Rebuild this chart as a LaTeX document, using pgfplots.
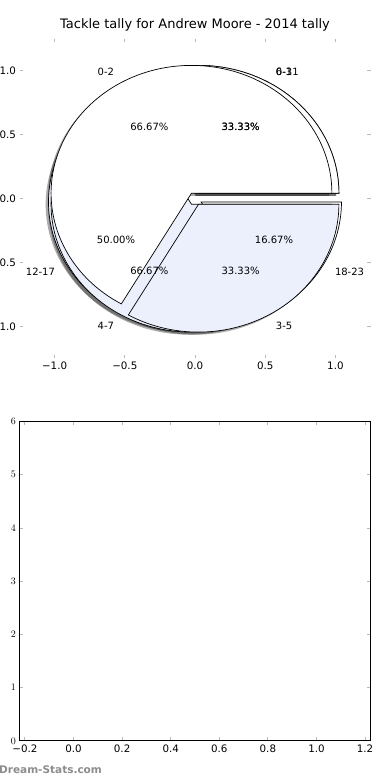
\documentclass[border=0pt]{standalone}
\usepackage{fontspec}
\setmainfont{DejaVu Sans}
\usepackage{pgfplots}
\pgfplotsset{compat=1.18}
\definecolor{pieblue}{RGB}{235,240,252}
\definecolor{tickgray}{RGB}{185,185,185}
\definecolor{wmgray}{RGB}{140,140,140}

\newcommand\rx{140.4bp}
\newcommand\ry{127.8bp}
% slices given by cumulative percentages (start, end)
\newcommand\shadowslice[2]{%
  \pgfmathsetmacro\aa{3.6*#1}\pgfmathsetmacro\bb{3.6*#2}%
  \pgfmathsetmacro\md{(\aa+\bb)/2}%
  \pgfmathsetmacro\ox{0.05*cos(\md)-0.02}%
  \pgfmathsetmacro\oy{0.05*sin(\md)-0.02}%
  \pgfmathsetmacro\sx{\ox+cos(\aa)}%
  \pgfmathsetmacro\sy{\oy+sin(\aa)}%
  \fill[black, opacity=0.33] (axis cs:\ox,\oy) -- (axis cs:\sx,\sy)
     arc[start angle=\aa, end angle=\bb, x radius=\rx, y radius=\ry] -- cycle;
}
\newcommand\wedgeslice[3]{%
  \pgfmathsetmacro\aa{3.6*#1}\pgfmathsetmacro\bb{3.6*#2}%
  \pgfmathsetmacro\md{(\aa+\bb)/2}%
  \pgfmathsetmacro\ox{0.05*cos(\md)}%
  \pgfmathsetmacro\oy{0.05*sin(\md)}%
  \pgfmathsetmacro\sx{\ox+cos(\aa)}%
  \pgfmathsetmacro\sy{\oy+sin(\aa)}%
  \filldraw[fill=#3, draw=black, line width=0.7bp] (axis cs:\ox,\oy) -- (axis cs:\sx,\sy)
     arc[start angle=\aa, end angle=\bb, x radius=\rx, y radius=\ry] -- cycle;
}
\newcommand\slicetext[4]{%
  \pgfmathsetmacro\md{3.6*(#1+#2)/2}%
  \pgfmathsetmacro\lx{1.15*cos(\md)}%
  \pgfmathsetmacro\ly{1.15*sin(\md)}%
  \pgfmathsetmacro\px{0.65*cos(\md)}%
  \pgfmathsetmacro\py{0.65*sin(\md)}%
  \ifdim\lx pt>0pt
    \node[anchor=west, inner sep=0pt, font=\fontsize{10bp}{12bp}\selectfont] at (axis cs:\lx,\ly) {#3};
  \else
    \node[anchor=east, inner sep=0pt, font=\fontsize{10bp}{12bp}\selectfont] at (axis cs:\lx,\ly) {#3};
  \fi
  \node[inner sep=0pt, font=\fontsize{10bp}{12bp}\selectfont] at (axis cs:\px,\py) {#4};
}

\begin{document}
\begin{tikzpicture}
\useasboundingbox (0,0) rectangle (390bp,780bp);
\begin{axis}[
  at={(19.5bp,421.5bp)}, anchor=south west,
  scale only axis, width=351bp, height=319.5bp,
  xmin=-1.25, xmax=1.25, ymin=-1.25, ymax=1.25,
  axis line style={draw=none},
  xtick={-1,-0.5,0,0.5,1}, xticklabels={−1.0,−0.5,0.0,0.5,1.0},
  ytick={-1,-0.5,0,0.5,1}, yticklabels={−1.0,−0.5,0.0,0.5,1.0},
  tick style={tickgray, line width=1bp}, major tick length=3.5bp, tick align=inside,
  ticklabel style={font=\fontsize{10.3bp}{12bp}\selectfont},
  title={Tackle tally for Andrew Moore - 2014 tally},
  title style={font=\fontsize{13bp}{15bp}\selectfont, yshift=-1.5bp},
  clip=false,
]
\pgfplotsextra{%
  % shadows of all wedges (below all wedges)
  \shadowslice{0}{33.33}\shadowslice{33.33}{83.33}\shadowslice{83.33}{100}%
  \shadowslice{0}{33.33}\shadowslice{33.33}{100}%
  \shadowslice{0}{66.67}\shadowslice{66.67}{100}%
  % pie: 6-11 / 12-17 / 18-23
  \wedgeslice{0}{33.33}{white}\wedgeslice{33.33}{83.33}{pieblue}\wedgeslice{83.33}{100}{white}%
  % pie: 0-3 / 4-7
  \wedgeslice{0}{33.33}{white}\wedgeslice{33.33}{100}{pieblue}%
  % pie: 0-2 / 3-5
  \wedgeslice{0}{66.67}{white}\wedgeslice{66.67}{100}{pieblue}%
  % texts
  \slicetext{0}{33.33}{6-11}{33.33\%}\slicetext{33.33}{83.33}{12-17}{50.00\%}\slicetext{83.33}{100}{18-23}{16.67\%}%
  \slicetext{0}{33.33}{0-3}{33.33\%}\slicetext{33.33}{100}{4-7}{66.67\%}%
  \slicetext{0}{66.67}{0-2}{66.67\%}\slicetext{66.67}{100}{3-5}{33.33\%}%
}
\end{axis}
\begin{axis}[
  at={(19.5bp,39bp)}, anchor=south west,
  scale only axis, width=351bp, height=319.5bp,
  xmin=-0.2226, xmax=1.2226, ymin=0, ymax=6,
  axis line style={black, line width=1bp},
  xtick={-0.2,0,0.2,0.4,0.6,0.8,1.0,1.2},
  xticklabels={−0.2,0.0,0.2,0.4,0.6,0.8,1.0,1.2},
  ytick={0,1,2,3,4,5,6},
  tick style={tickgray, line width=1bp}, major tick length=3.5bp, tick align=inside,
  ticklabel style={font=\fontsize{10.3bp}{12bp}\selectfont},
]
\end{axis}
\node[anchor=west, inner sep=0pt, text=wmgray, font=\bfseries\fontsize{10.5bp}{12bp}\selectfont] at (-1bp,10bp) {Dream-Stats.com};
\end{tikzpicture}
\end{document}
